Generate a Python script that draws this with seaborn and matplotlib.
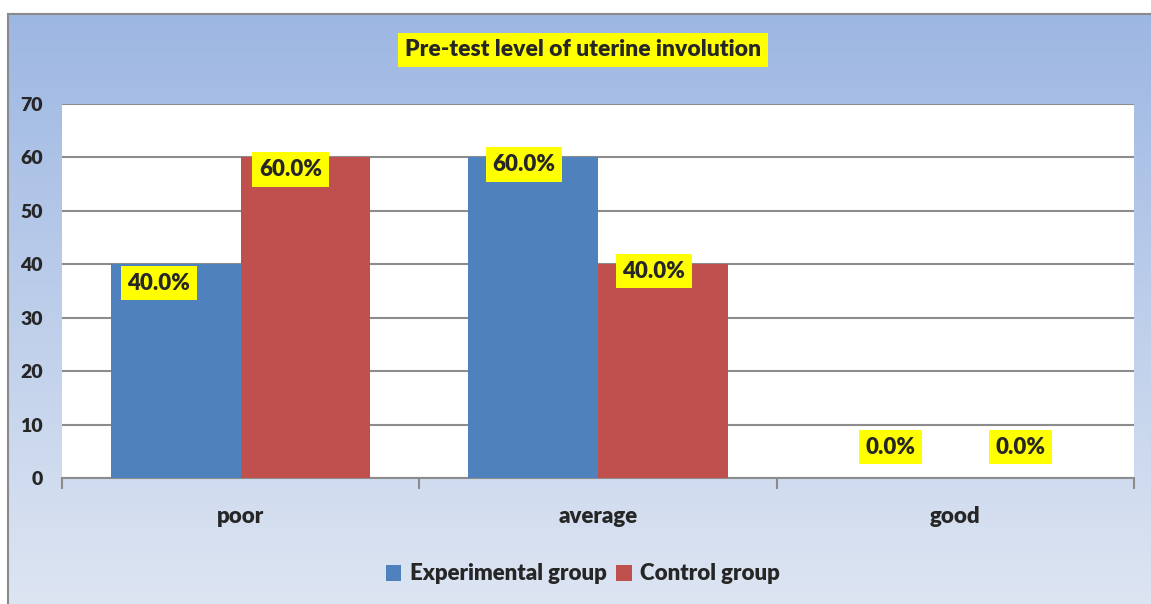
import numpy as np
import pandas as pd
import matplotlib
matplotlib.use("Agg")
import matplotlib.pyplot as plt
import seaborn as sns
from matplotlib.patches import Patch

categories = ["poor", "average", "good"]
groups = ["Experimental group", "Control group"]
experimental = [40, 60, 0]
control = [60, 40, 0]
yticks = [0, 10, 20, 30, 40, 50, 60, 70]
title = "Pre-test level of uterine involution"
colors = ["#4F81BD", "#C0504D"]

# label placement offsets (pixels) per bar: experimental bars then control bars
label_offsets = [(-17, -19), (-9, -7), (0, 31), (-15, -12), (-9, -7), (0, 31)]

df = pd.DataFrame({
    "category": categories * 2,
    "group": [groups[0]] * 3 + [groups[1]] * 3,
    "value": experimental + control,
})

sns.set_theme(style="white")
plt.rcParams["font.family"] = ["Lato", "DejaVu Sans"]
W = "heavy"

fig = plt.figure(figsize=(11.51, 6.04), dpi=100)
fig.patch.set_facecolor("white")

# gradient background frame
bg = fig.add_axes([8 / 1151, 0, 1 - 8 / 1151, (604 - 14) / 604])
top = np.array([157, 183, 227]) / 255
bot = np.array([221, 229, 242]) / 255
t = np.linspace(0, 1, 256)[:, None]
grad = top[None, :] * (1 - t) + bot[None, :] * t
bg.imshow(grad[:, None, :], aspect="auto", extent=[0, 1, 0, 1])
bg.set_xlim(0, 1)
bg.set_ylim(0, 1)
bg.set_xticks([])
bg.set_yticks([])
for s in ["right", "bottom"]:
    bg.spines[s].set_visible(False)
for s in ["left", "top"]:
    bg.spines[s].set_color("#8a8a8a")
    bg.spines[s].set_linewidth(1.5)

ax = fig.add_axes([62 / 1151, (604 - 478) / 604, (1134 - 62) / 1151, (478 - 104) / 604])
ax.set_facecolor("white")
sns.barplot(data=df, x="category", y="value", hue="group", palette=colors,
            saturation=1, width=0.726, gap=0, ax=ax, legend=False, zorder=3,
            linewidth=0, edgecolor="none")

ax.set_ylim(0, 70)
ax.set_yticks(yticks)
ax.set_xlim(-0.5, 2.5)
ax.yaxis.grid(True, color="#8c8c8c", linewidth=1.5, zorder=0)
ax.set_axisbelow(True)
for s in ["left", "right", "top"]:
    ax.spines[s].set_visible(False)
ax.spines["bottom"].set_color("#8c8c8c")
ax.spines["bottom"].set_linewidth(1.5)
ax.set_xlabel("")
ax.set_ylabel("")
ax.set_xticks(range(len(categories)))
ax.set_xticklabels(categories, fontsize=16, fontweight=W)
ax.set_xticks([-0.5, 0.5, 1.5, 2.5], minor=True)
ax.tick_params(axis="x", which="major", length=0, pad=20, bottom=True)
ax.tick_params(axis="x", which="minor", length=8, width=1.5, color="#8c8c8c",
               direction="out", bottom=True)
ax.tick_params(axis="y", length=0, pad=14, labelsize=14)
for lbl in ax.get_yticklabels():
    lbl.set_fontweight(W)

# value labels
i = 0
for container in ax.containers:
    for bar in container:
        h = bar.get_height()
        xc = bar.get_x() + bar.get_width() / 2
        dx, dy = label_offsets[i]
        i += 1
        ax.annotate(f"{h:.1f}%", (xc, h), xytext=(dx, dy), textcoords="offset pixels",
                    ha="center", va="center", fontsize=16, fontweight=W,
                    bbox=dict(boxstyle="square,pad=0.3", fc="#FFFF00", ec="none"), zorder=5)

fig.text(583 / 1151, 1 - 50 / 604, title, ha="center", va="center", fontsize=16.5,
         fontweight=W, bbox=dict(boxstyle="square,pad=0.3", fc="#FFFF00", ec="none"))

handles = [Patch(facecolor=c, edgecolor="none") for c in colors]
fig.legend(handles, groups, loc="center", bbox_to_anchor=(583 / 1151, 1 - 574 / 604), ncol=2,
           frameon=False, prop={"weight": W, "size": 16}, handlelength=0.7, handleheight=0.7,
           columnspacing=0.4, handletextpad=0.4)

fig.savefig("out.png", dpi=100)
